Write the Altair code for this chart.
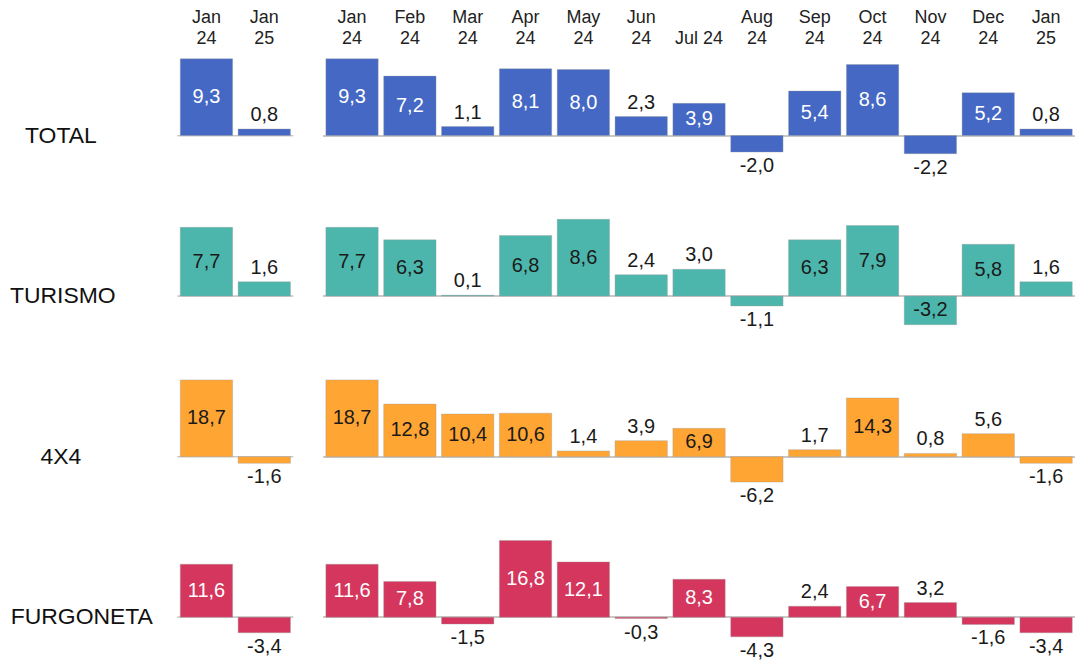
import altair as alt
import pandas as pd

# ---------------- data ----------------
months = ["Jan|24", "Feb|24", "Mar|24", "Apr|24", "May|24", "Jun|24", "Jul 24",
          "Aug|24", "Sep|24", "Oct|24", "Nov|24", "Dec|24", "Jan|25"]
left_months = ["Jan|24", "Jan|25"]

series_names = ["TOTAL", "TURISMO", "4X4", "FURGONETA"]
total = [9.3, 7.2, 1.1, 8.1, 8.0, 2.3, 3.9, -2.0, 5.4, 8.6, -2.2, 5.2, 0.8]
turismo = [7.7, 6.3, 0.1, 6.8, 8.6, 2.4, 3.0, -1.1, 6.3, 7.9, -3.2, 5.8, 1.6]
x4 = [18.7, 12.8, 10.4, 10.6, 1.4, 3.9, 6.9, -6.2, 1.7, 14.3, 0.8, 5.6, -1.6]
furgoneta = [11.6, 7.8, -1.5, 16.8, 12.1, -0.3, 8.3, -4.3, 2.4, 6.7, 3.2, -1.6, -3.4]
left_total = [9.3, 0.8]
left_turismo = [7.7, 1.6]
left_x4 = [18.7, -1.6]
left_furgoneta = [11.6, -3.4]

right_values = [total, turismo, x4, furgoneta]
left_values = [left_total, left_turismo, left_x4, left_furgoneta]

# ---------------- style ----------------
colors = ["#4468C4", "#4DB6AC", "#FFA533", "#D5365E"]
inside_colors = ["white", "#1a1a1a", "#1a1a1a", "white"]
label_offsets = [-117, -115, -117, -96]   # pixel offset of row titles from the left panel
FONT = "Liberation Sans"
PLOT_H = 127
BAR_PX = 77.0
STEP = 58.0
PI = 0.095
PO = PI / 2
LBL_SIZE = 20


def frame(cats, vals, hi):
    df = pd.DataFrame({"m": cats, "v": vals})
    df["mid"] = df["v"] / 2
    df["lbl"] = df["v"].map(lambda x: f"{x:.1f}".replace(".", ","))
    df["inside"] = (df["v"].abs() / hi) >= 0.36
    return df


def panel(cats, vals, hi, lo, color, in_color, top_axis, row_label=None, label_x=0):
    df = frame(cats, vals, hi)
    if top_axis:
        axis = alt.Axis(orient="top", title=None,
                        labelExpr="indexof(datum.label, '|') < 0 ? ['', datum.label] : split(datum.label, '|')",
                        labelAngle=0, ticks=False, domain=False, labelFont=FONT,
                        labelFontSize=18, labelColor="#222222", labelPadding=36,
                        labelBaseline="alphabetic", labelLineHeight=21)
    else:
        axis = None
    xenc = alt.X("m:N", sort=None, axis=axis,
                 scale=alt.Scale(domain=cats, paddingInner=PI, paddingOuter=PO))
    yscale = alt.Scale(domain=[lo, hi], nice=False, zero=True)
    base = alt.Chart(df).encode(x=xenc)
    bars = base.mark_bar(color=color, stroke="#9a9a9a", strokeWidth=0.6,
                         strokeOpacity=0.6).encode(
        y=alt.Y("v:Q", scale=yscale, axis=None))
    rule = base.mark_rule(color="#c8c8c8", strokeWidth=1.2).encode(
        x=alt.value(0), x2=alt.value(STEP * len(cats)),
        y=alt.Y("z:Q", scale=yscale, axis=None)).transform_calculate(z="0")
    t_in = base.transform_filter("datum.inside").mark_text(
        font=FONT, fontSize=LBL_SIZE, color=in_color, baseline="middle").encode(
        y=alt.Y("mid:Q", axis=None), text="lbl:N")
    t_pos = base.transform_filter("!datum.inside && datum.v >= 0").mark_text(
        font=FONT, fontSize=LBL_SIZE, color="#1a1a1a", baseline="middle", dy=-14).encode(
        y=alt.Y("v:Q", axis=None), text="lbl:N")
    t_neg = base.transform_filter("!datum.inside && datum.v < 0").mark_text(
        font=FONT, fontSize=LBL_SIZE, color="#1a1a1a", baseline="middle", dy=14).encode(
        y=alt.Y("v:Q", axis=None), text="lbl:N")
    layers = [rule, bars, t_in, t_pos, t_neg]
    if row_label is not None:
        lab = alt.Chart(pd.DataFrame({"name": [row_label], "z": [0.0]})).mark_text(
            font=FONT, fontSize=23, color="#111111", align="center", baseline="middle").encode(
            x=alt.value(label_x), y=alt.Y("z:Q", scale=yscale, axis=None), text="name:N")
        layers.append(lab)
    return alt.layer(*layers).properties(width=STEP * len(cats), height=PLOT_H)


rows = []
for i, name in enumerate(series_names):
    hi = max(right_values[i])
    lo = -hi * (PLOT_H - BAR_PX) / BAR_PX
    left = panel(left_months, left_values[i], hi, lo, colors[i], inside_colors[i], i == 0,
                 name, label_offsets[i])
    right = panel(months, right_values[i], hi, lo, colors[i], inside_colors[i], i == 0)
    rows.append(alt.hconcat(left, right, spacing=28))

chart = alt.vconcat(*rows, spacing=33).configure_view(stroke=None).properties(
    padding={"left": 1, "top": 0, "right": 0, "bottom": 0},
    background="white",
)

chart.save("out.html", embed_options={"renderer": "svg", "actions": False})
